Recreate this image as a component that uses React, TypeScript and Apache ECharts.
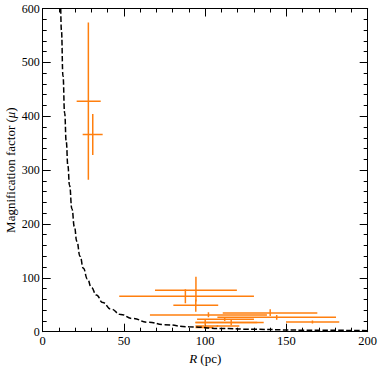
import React, { useEffect, useRef } from "react";
import * as echarts from "echarts";

// Error-bar data: R (pc) and magnification with error ranges
const rVal = [28.1, 30.8, 94.3, 87.8, 94.2, 140, 144, 166, 102, 100, 116, 107.5, 100, 112];
const rLo = [20.9, 24.6, 69.1, 47.1, 80.4, 110.8, 107.5, 149.7, 66, 94, 94, 94, 94, 95];
const rHi = [35.7, 36.9, 119.5, 130, 108, 169, 180.5, 182.5, 138, 132, 136, 121, 105, 130];
const muVal = [428, 366, 77, 66, 49, 34.5, 26.7, 18, 31, 17, 17, 10.6, 8, 23];
const muLo = [282, 328, 56, 53, 37, 29, 22, 15, 27, 12.5, 12, 8.5, 6.5, 20];
const muHi = [574, 404, 102, 79, 60, 41.6, 31, 21, 36, 21.5, 22, 12.5, 9.5, 26];

// Dashed model curve
const curveR = [11.1, 11.5, 12.5, 13.5, 14.5, 15.5, 16.5, 18, 19.5, 21, 23, 25, 27.5, 30, 33, 37, 42, 48, 55, 65, 75, 90, 110, 130, 160, 200];
const curveMu = [600, 560, 474, 406, 352, 308, 272, 228, 195, 168, 140, 118, 98, 82, 68, 54, 42, 32, 24.5, 17.5, 13, 9, 6, 4.4, 2.9, 1.9];

const xTicks = { min: 0, max: 200, interval: 50 };
const yTicks = { min: 0, max: 600, interval: 100 };

const FONT = "Liberation Serif";
const ORANGE = "#ff7f0e";

export default function App() {
  const ref = useRef<HTMLDivElement>(null);
  useEffect(() => {
    if (!ref.current) return;
    const chart = echarts.init(ref.current, undefined, { renderer: "svg" });
    const errData = rVal.map((r, i) => [r, rLo[i], rHi[i], muVal[i], muLo[i], muHi[i]]);
    const curveData = curveR.map((r, i) => [r, curveMu[i]]);
    const tickCommon = {
      axisLine: { show: true, onZero: false, lineStyle: { color: "#000", width: 1 } },
      axisTick: { show: true, inside: true, length: 8, lineStyle: { color: "#000", width: 1 } },
      minorTick: { show: true, splitNumber: 5, length: 4, lineStyle: { color: "#000", width: 1 } },
      splitLine: { show: false },
      minorSplitLine: { show: false },
    };
    chart.setOption({
      animation: false,
      backgroundColor: "#fff",
      textStyle: { fontFamily: FONT },
      grid: { left: 42.7, right: 14.3, top: 8.5, bottom: 42.3, containLabel: false, outerBoundsMode: "none" },
      xAxis: [
        {
          type: "value",
          position: "bottom",
          ...xTicks,
          ...tickCommon,
          axisLabel: { show: true, color: "#000", fontSize: 12.5, fontFamily: FONT, margin: 3 },
          name: "{i|R} (pc)",
          nameLocation: "middle",
          nameGap: 20,
          nameMoveOverlap: false,
          nameTextStyle: {
            color: "#000",
            fontSize: 13,
            fontFamily: FONT,
            rich: { i: { fontStyle: "italic", fontSize: 13, fontFamily: FONT, color: "#000" } },
          },
        },
        {
          type: "value",
          position: "top",
          ...xTicks,
          ...tickCommon,
          axisLabel: { show: false },
        },
      ],
      yAxis: [
        {
          type: "value",
          position: "left",
          ...yTicks,
          ...tickCommon,
          axisLabel: { show: true, color: "#000", fontSize: 12, fontFamily: FONT, margin: 3 },
          name: "Magnification factor ({i|μ})",
          nameLocation: "middle",
          nameGap: 26,
          nameMoveOverlap: false,
          nameTextStyle: {
            color: "#000",
            fontSize: 13,
            fontFamily: FONT,
            rich: { i: { fontStyle: "italic", fontSize: 13, fontFamily: FONT, color: "#000" } },
          },
        },
        {
          type: "value",
          position: "right",
          ...yTicks,
          ...tickCommon,
          axisLabel: { show: false },
        },
      ],
      series: [
        {
          type: "custom",
          xAxisIndex: 0,
          yAxisIndex: 0,
          data: errData,
          encode: { x: [0, 1, 2], y: [3, 4, 5] },
          clip: true,
          z: 2,
          renderItem: (params: any, api: any) => {
            const x = api.value(0);
            const xl = api.value(1);
            const xh = api.value(2);
            const y = api.value(3);
            const yl = api.value(4);
            const yh = api.value(5);
            const pL = api.coord([xl, y]);
            const pR = api.coord([xh, y]);
            const pB = api.coord([x, yl]);
            const pT = api.coord([x, yh]);
            const style = { stroke: ORANGE, lineWidth: 1.5 };
            return {
              type: "group",
              children: [
                { type: "line", shape: { x1: pL[0], y1: pL[1], x2: pR[0], y2: pR[1] }, style },
                { type: "line", shape: { x1: pB[0], y1: pB[1], x2: pT[0], y2: pT[1] }, style },
              ],
            };
          },
        },
        {
          type: "line",
          xAxisIndex: 0,
          yAxisIndex: 0,
          data: curveData,
          smooth: true,
          smoothMonotone: "x",
          symbol: "none",
          clip: true,
          z: 3,
          lineStyle: { color: "#000", width: 1.5, type: [5.5, 2.4] },
        },
      ],
    });
    return () => chart.dispose();
  }, []);
  return (
    <div
      ref={ref}
      style={{ position: "fixed", left: 0, top: 0, width: 382, height: 374, background: "#fff" }}
    />
  );
}
